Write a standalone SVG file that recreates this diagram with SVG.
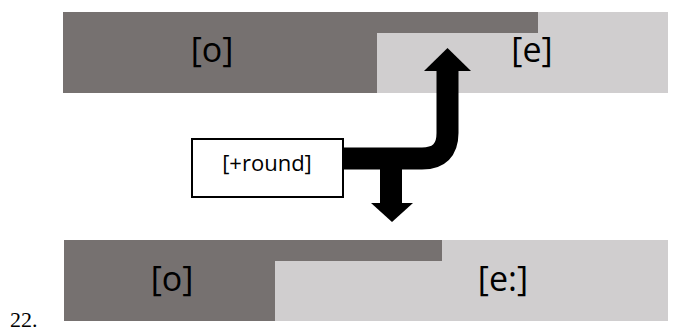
<svg xmlns="http://www.w3.org/2000/svg" width="685" height="331" viewBox="0 0 685 331">
<style>
.dark{fill:#767170}
.light{fill:#d0cecf}
.seg{font-family:"Open Sans","Liberation Sans",sans-serif;font-size:34px;fill:#000;text-anchor:middle}
.lbl{font-family:"Open Sans","Liberation Sans",sans-serif;font-size:22px;fill:#000;text-anchor:middle}
.num{font-family:"Liberation Serif",serif;font-size:22px;fill:#000}
</style>
<rect width="685" height="331" fill="#fff"/>
<g id="top-band">
<rect class="light" x="63" y="12" width="605" height="81"/>
<rect class="dark" x="63" y="12" width="475" height="21"/>
<rect class="dark" x="63" y="12" width="314" height="81"/>
<text class="seg" x="212" y="62">[o]</text>
<text class="seg" x="532" y="62">[e]</text>
</g>
<g id="bottom-band">
<rect class="light" x="64" y="240" width="604" height="81"/>
<rect class="dark" x="64" y="240" width="378" height="21"/>
<rect class="dark" x="64" y="240" width="211" height="81"/>
<text class="seg" x="172" y="291">[o]</text>
<text class="seg" x="503" y="291">[e:]</text>
</g>
<g id="connectors">
<path d="M343 158.5 H422 Q447.5 158.5 447.5 133 V70" fill="none" stroke="#000" stroke-width="22"/>
<polygon points="424,71 471,71 447.5,48" fill="#000"/>
<rect x="380" y="158" width="22" height="46" fill="#000"/>
<polygon points="371,203 413,203 392,222" fill="#000"/>
</g>
<g id="round-box">
<rect x="192" y="139" width="151" height="58" fill="#fff" stroke="#000" stroke-width="2"/>
<text class="lbl" x="267" y="171">[+round]</text>
</g>
<text class="num" x="10" y="327">22.</text>
</svg>
